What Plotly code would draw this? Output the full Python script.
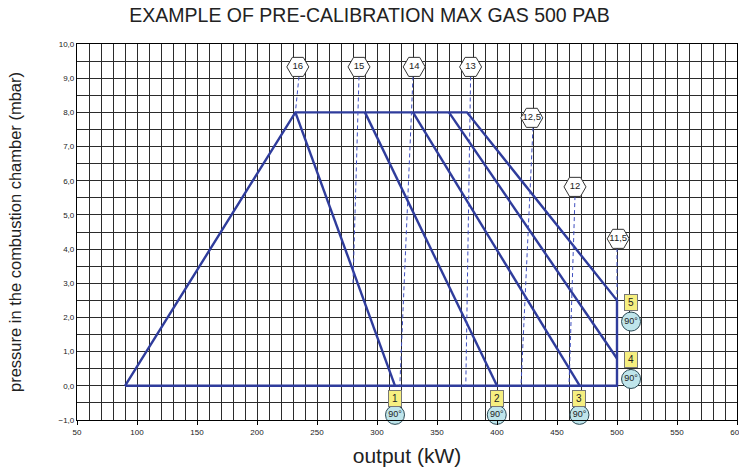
import plotly.graph_objects as go

# ---- working field envelope (output kW vs combustion chamber pressure mbar)
envelope_kw = [90, 232, 375, 500, 500, 90]
envelope_mbar = [0, 8.0, 8.0, 2.5, 0, 0]

# ---- intermediate limit curves (from the 8 mbar ceiling down to the base)
curve_top_kw = [232, 290, 330, 360]
curve_top_mbar = [8.0, 8.0, 8.0, 8.0]
curve_end_kw = [315, 400, 469, 500]
curve_end_mbar = [0, 0, 0, 0.8]

# ---- pre-calibration settings (hexagon labels) and their dashed guides
set_labels = ["16", "15", "14", "13", "12,5", "12", "11,5"]
set_kw = [234, 285, 331, 378, 429, 465, 501]
set_mbar = [9.33, 9.33, 9.33, 9.33, 7.84, 5.82, 4.30]
guide_top_kw = [235, 285, 330, 378, 430, 465, 500]
guide_top_mbar = [9.05, 9.05, 9.05, 9.05, 7.56, 5.55, 4.03]
guide_end_kw = [232, 280, 319, 374, 420, 460, 500]
guide_end_mbar = [8.0, 3.0, 0, 0, 0, 0, 2.5]

# ---- curve numbers and air damper angle
curve_ids = ["1", "2", "3", "4", "5"]
curve_id_kw = [315, 399.8, 468.7, 511.7, 511.7]
curve_id_mbar = [-0.38, -0.38, -0.38, 0.76, 2.43]
angle_text = ["90°", "90°", "90°", "90°", "90°"]
angle_mbar = [-0.85, -0.85, -0.85, 0.20, 1.88]

x_ticks = [50, 100, 150, 200, 250, 300, 350, 400, 450, 500, 550, 600]
y_ticks = [-1, 0, 1, 2, 3, 4, 5, 6, 7, 8, 9, 10]

BLUE = "#2f3c9c"
FONT = "Liberation Sans, Arial, sans-serif"

fig = go.Figure()

fig.add_trace(go.Scatter(
    x=envelope_kw, y=envelope_mbar, mode="lines",
    line=dict(color=BLUE, width=2.4), hoverinfo="skip", showlegend=False))

for x0, y0, x1, y1 in zip(curve_top_kw, curve_top_mbar, curve_end_kw, curve_end_mbar):
    fig.add_trace(go.Scatter(
        x=[x0, x1], y=[y0, y1], mode="lines",
        line=dict(color=BLUE, width=2.4), hoverinfo="skip", showlegend=False))

for x0, y0, x1, y1 in zip(guide_top_kw, guide_top_mbar, guide_end_kw, guide_end_mbar):
    fig.add_trace(go.Scatter(
        x=[x0, x1], y=[y0, y1], mode="lines",
        line=dict(color="#3f4fc0", width=1, dash="4px,3px"),
        hoverinfo="skip", showlegend=False))

# hexagon setting labels
fig.add_trace(go.Scatter(
    x=set_kw, y=set_mbar, mode="markers+text", text=set_labels,
    textposition="middle center",
    textfont=dict(family=FONT, size=9.5, color="#222"),
    marker=dict(symbol="hexagon2", size=22, color="white",
                line=dict(color="#333", width=1)),
    cliponaxis=False, hoverinfo="skip", showlegend=False))

# damper angle circles
fig.add_trace(go.Scatter(
    x=curve_id_kw, y=angle_mbar, mode="markers+text", text=angle_text,
    textposition="middle center",
    textfont=dict(family=FONT, size=9, color="#222"),
    marker=dict(symbol="circle", size=19, color="#bfe5eb",
                line=dict(color="#2a4a55", width=1)),
    cliponaxis=False, hoverinfo="skip", showlegend=False))

# yellow curve number boxes
for lab, xk, ym in zip(curve_ids, curve_id_kw, curve_id_mbar):
    fig.add_annotation(
        x=xk, y=ym, text=lab, showarrow=False,
        font=dict(family=FONT, size=10, color="#222"),
        bgcolor="#f6ef80", bordercolor="#777", borderwidth=1,
        borderpad=1, width=10, height=13)

axis_common = dict(
    showline=True, linecolor="black", linewidth=1.2, mirror=True,
    showgrid=True, gridcolor="#2b2b2b", gridwidth=1.2,
    zeroline=False, ticks="outside", ticklen=4, tickcolor="black",
    ticklabeloverflow="allow", automargin=False,
    tickfont=dict(family=FONT, size=8, color="#222"),
)

fig.update_layout(
    width=739, height=474,
    margin=dict(l=77, r=2, t=44, b=54),
    paper_bgcolor="white", plot_bgcolor="white",
    separators=",.",
    title=dict(text="EXAMPLE OF PRE-CALIBRATION MAX GAS 500 PAB",
               x=0.5, xref="container", xanchor="center",
               y=0.968, yref="container", yanchor="middle",
               font=dict(family=FONT, size=19.5, color="#222")),
    xaxis=dict(
        range=[50, 600], tickvals=x_ticks,
        minor=dict(dtick=10, tick0=50, showgrid=True,
                   gridcolor="#2b2b2b", gridwidth=1.2, ticks=""),
        title=dict(text="output (kW)", standoff=12,
                   font=dict(family=FONT, size=21, color="#222")),
        **axis_common),
    yaxis=dict(
        range=[-1, 10], tickvals=y_ticks, tickformat=".1f", ticklen=0,
        minor=dict(dtick=0.5, tick0=0, showgrid=True,
                   gridcolor="#2b2b2b", gridwidth=1.2, ticks=""),
        title=dict(text="pressure in the combustion chamber (mbar)", standoff=32,
                   font=dict(family=FONT, size=16.5, color="#222")),
        **{k: v for k, v in axis_common.items() if k != "ticklen"}),
)

fig.write_html("out.html")
